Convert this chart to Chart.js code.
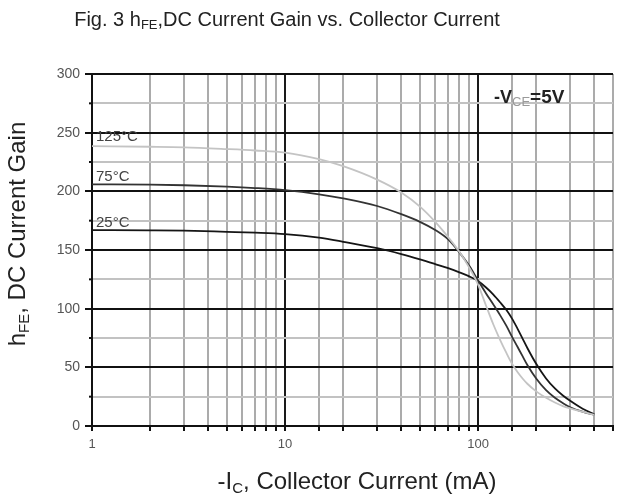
<!DOCTYPE html>
<html>
<head>
<meta charset="utf-8">
<script src="https://cdn.jsdelivr.net/npm/chart.js@4.4.0/dist/chart.umd.min.js"></script>
<style>
  html, body { margin: 0; padding: 0; background: #ffffff; }
  #wrap { width: 619px; height: 497px; position: relative; }
</style>
</head>
<body>
<div id="wrap"><canvas id="c" width="619" height="497"></canvas></div>
<script>
// ---- data ----
const currents = [1, 2, 3, 5, 7, 10, 15, 20, 30, 40, 50, 60, 70, 80, 90, 100, 110, 120, 130, 140, 150, 160, 170, 180, 200, 225, 250, 275, 300, 350, 400];
const gain25  = [167, 166.8, 166.5, 165.5, 164.8, 163.6, 160.5, 157, 151.5, 146.5, 142, 138, 134.5, 131, 127.5, 123.5, 118, 112, 105.5, 99, 91.5, 83, 74.5, 66.5, 53, 40.5, 32, 26, 21.5, 14.5, 10];
const gain75  = [206, 205.7, 205.2, 204, 202.8, 201, 197.5, 194, 187.5, 180.5, 174, 167, 159, 148, 136.5, 124, 113, 103.5, 94.5, 85.5, 76, 67.5, 59.5, 52, 40.5, 30.5, 24, 19.5, 16, 12, 9.5];
const gain125 = [238.5, 238, 237.5, 236, 234.8, 233, 227.5, 221.5, 210, 199, 187, 174, 161, 148.5, 135, 120.5, 102.5, 86.5, 73.5, 62.5, 53, 46, 40.5, 36, 29.5, 24, 20, 17, 15, 12, 9.5];
const seriesNames = ['25\u00B0C', '75\u00B0C', '125\u00B0C'];
const xTickLabels = [1, 10, 100];
const xRange = [1, 500];
const yRange = [0, 300];
const yMajorStep = 50;
const yMinorStep = 25;

const FONT = '"Liberation Sans", Arial, Helvetica, sans-serif';

function pts(ys) { return currents.map((x, i) => ({ x: x, y: ys[i] })); }
function isDecade(v) { const l = Math.log10(v); return Math.abs(l - Math.round(l)) < 1e-9; }

function runFont(r) { return (r.bold ? 'bold ' : '') + r.size + 'px ' + FONT; }
function drawRuns(ctx, x, y, runs, align) {
  let total = 0;
  runs.forEach(r => { ctx.font = runFont(r); r.w = ctx.measureText(r.t).width; total += r.w; });
  let cx = align === 'center' ? x - total / 2 : x;
  ctx.textAlign = 'left';
  ctx.textBaseline = 'alphabetic';
  runs.forEach(r => {
    ctx.font = runFont(r);
    ctx.fillStyle = r.color;
    ctx.fillText(r.t, cx, y + (r.dy || 0));
    cx += r.w;
  });
}

const textPlugin = {
  id: 'texts',
  afterDatasetsDraw(chart) {
    const ctx = chart.ctx;
    const xs = chart.scales.x, ys = chart.scales.y, ca = chart.chartArea;
    ctx.save();
    // minor y tick marks
    ctx.strokeStyle = '#111';
    ctx.lineWidth = 2;
    for (let v = yRange[0] + yMinorStep; v < yRange[1]; v += yMajorStep) {
      const py = ys.getPixelForValue(v);
      ctx.beginPath(); ctx.moveTo(ca.left - 3, py); ctx.lineTo(ca.left, py); ctx.stroke();
    }
    // series labels just above the start of each curve
    const firsts = [gain25[0], gain75[0], gain125[0]];
    const lift = [3, 3, 5];
    seriesNames.forEach((name, i) => {
      const px = xs.getPixelForValue(currents[0]) + 4;
      const py = ys.getPixelForValue(firsts[i]) - lift[i];
      drawRuns(ctx, px, py, [{ t: name, size: 15, color: '#444' }], 'left');
    });
    // condition annotation
    const ax = xs.getPixelForValue(121);
    const ay = ys.getPixelForValue(275);
    drawRuns(ctx, ax, ay, [
      { t: '-V', size: 18, bold: true, color: '#222' },
      { t: 'CE', size: 13, dy: 3, color: '#9a9a9a' },
      { t: '=5V', size: 19, bold: true, color: '#222' }
    ], 'left');
    ctx.restore();
  },
  afterDraw(chart) {
    const ctx = chart.ctx;
    ctx.save();
    // main title
    drawRuns(ctx, 287, 26, [
      { t: 'Fig. 3 h', size: 20, color: '#222' },
      { t: 'FE', size: 13, dy: 3, color: '#222' },
      { t: ',DC Current Gain vs. Collector Current', size: 20, color: '#222' }
    ], 'center');
    // x axis title
    drawRuns(ctx, 357, 489, [
      { t: '-I', size: 24, color: '#222' },
      { t: 'C', size: 15, dy: 4, color: '#222' },
      { t: ', Collector Current (mA)', size: 24, color: '#222' }
    ], 'center');
    // y axis title
    ctx.translate(25, 234);
    ctx.rotate(-Math.PI / 2);
    drawRuns(ctx, 0, 0, [
      { t: 'h', size: 24, color: '#222' },
      { t: 'FE', size: 15, dy: 4, color: '#222' },
      { t: ', DC Current Gain', size: 24, color: '#222' }
    ], 'center');
    ctx.restore();
  }
};

new Chart(document.getElementById('c'), {
  type: 'line',
  data: {
    datasets: [
      { label: seriesNames[2], data: pts(gain125), borderColor: '#c4c4c4', borderWidth: 1.8 },
      { label: seriesNames[1], data: pts(gain75), borderColor: '#333333', borderWidth: 1.8 },
      { label: seriesNames[0], data: pts(gain25), borderColor: '#151515', borderWidth: 1.8 }
    ]
  },
  options: {
    responsive: false,
    animation: false,
    devicePixelRatio: 1,
    layout: { padding: { left: 0, right: 0, top: 74, bottom: 0 } },
    elements: {
      point: { radius: 0 },
      line: { cubicInterpolationMode: 'monotone', fill: false }
    },
    plugins: { legend: { display: false }, tooltip: { enabled: false }, title: { display: false } },
    scales: {
      x: {
        type: 'logarithmic',
        min: xRange[0], max: xRange[1],
        afterFit(s) { s.height = 71; },
        border: { display: true, color: '#111', width: 2 },
        grid: {
          color: c => isDecade(c.tick.value) ? '#1a1a1a' : '#ababab',
          lineWidth: 2,
          drawTicks: true,
          tickLength: 5,
          tickColor: '#111',
          tickWidth: 2
        },
        ticks: {
          autoSkip: false,
          maxRotation: 0,
          padding: 6,
          color: '#555',
          font: { family: FONT, size: 13 },
          callback: v => xTickLabels.includes(v) ? String(v) : ''
        }
      },
      y: {
        type: 'linear',
        min: yRange[0], max: yRange[1],
        afterFit(s) { s.width = 92; },
        border: { display: true, color: '#111', width: 2 },
        grid: {
          color: c => (c.tick.value % yMajorStep === 0) ? '#111' : '#c2c2c2',
          lineWidth: 2,
          drawTicks: true,
          tickLength: 7,
          tickColor: c => (c.tick.value % yMajorStep === 0) ? '#111' : 'rgba(0,0,0,0)',
          tickWidth: 2
        },
        ticks: {
          stepSize: yMinorStep,
          padding: 5,
          color: '#555',
          font: { family: FONT, size: 14 },
          callback: v => (v % yMajorStep === 0) ? String(v) : ''
        }
      }
    }
  },
  plugins: [textPlugin]
});
</script>
</body>
</html>
